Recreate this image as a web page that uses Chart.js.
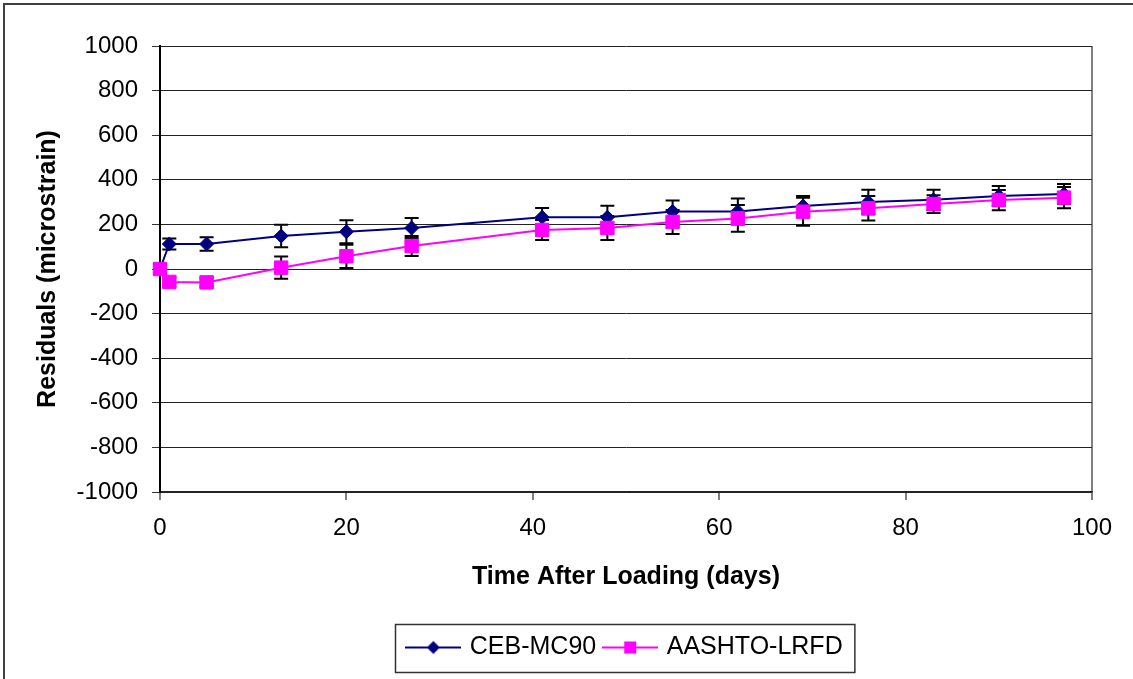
<!DOCTYPE html>
<html>
<head>
<meta charset="utf-8">
<script src="https://cdn.jsdelivr.net/npm/chart.js@4"></script>
<style>
  html, body { margin: 0; padding: 0; background: #fff; overflow: hidden; }
  #wrap { width: 1133px; height: 679px; position: relative; }
</style>
</head>
<body>
<div id="wrap"><canvas id="residualChart" width="1133" height="679"></canvas></div>
<script>
/* ---- Data ---- */
const days = [0, 1, 5, 13, 20, 27, 41, 48, 55, 62, 69, 76, 83, 90, 97];
const cebValues = [0, 112, 112, 148, 167, 184, 232, 232, 258, 258, 282, 300, 310, 327, 336];
const aashtoValues = [0, -58, -60, 6, 57, 103, 175, 184, 211, 227, 257, 272, 291, 309, 320];
const cebErrors = [20, 25, 30, 50, 52, 45, 42, 52, 49, 58, 45, 55, 45, 45, 45];
const aashtoErrors = [20, 20, 20, 50, 52, 45, 45, 54, 54, 60, 63, 55, 40, 45, 48];
const seriesNames = ['CEB-MC90', 'AASHTO-LRFD'];
const yTicks = [-1000, -800, -600, -400, -200, 0, 200, 400, 600, 800, 1000];
const xTicks = [0, 20, 40, 60, 80, 100];

const FONT = "'Liberation Sans', Arial, sans-serif";
const NAVY = '#000080';
const MAGENTA = '#FF00FF';

// legend swatch: short line with the marker in the middle
function legendSwatch(color, shape) {
    const c = document.createElement('canvas');
    c.width = 56;
    c.height = 24;
    const g = c.getContext('2d');
    g.strokeStyle = color;
    g.lineWidth = 2;
    g.beginPath();
    g.moveTo(0, 12);
    g.lineTo(56, 12);
    g.stroke();
    g.fillStyle = color;
    g.beginPath();
    if (shape === 'diamond') {
        g.moveTo(28, 5.5); g.lineTo(34.5, 12); g.lineTo(28, 18.5); g.lineTo(21.5, 12);
    } else {
        g.rect(22, 6, 12, 12);
    }
    g.closePath();
    g.fill();
    return c;
}

const errorBars = {
    id: 'errorBars',
    beforeDatasetsDraw(chart) {
        const ctx = chart.ctx;
        const xs = chart.scales.x, ys = chart.scales.y;
        ctx.save();
        ctx.strokeStyle = '#000';
        ctx.lineWidth = 2;
        chart.data.datasets.forEach(ds => {
            ds.data.forEach((p, i) => {
                const e = ds.errors[i];
                const px = xs.getPixelForValue(p.x);
                const top = ys.getPixelForValue(p.y + e);
                const bot = ys.getPixelForValue(p.y - e);
                ctx.beginPath();
                ctx.moveTo(px, top); ctx.lineTo(px, bot);
                ctx.moveTo(px - 7, top); ctx.lineTo(px + 7, top);
                ctx.moveTo(px - 7, bot); ctx.lineTo(px + 7, bot);
                ctx.stroke();
            });
        });
        ctx.restore();
    }
};

const frames = {
    id: 'frames',
    beforeDraw(chart) {
        const ctx = chart.ctx;
        ctx.save();
        ctx.fillStyle = '#fff';
        ctx.fillRect(0, 0, chart.width, chart.height);
        ctx.strokeStyle = '#404040';
        ctx.lineWidth = 2;
        ctx.strokeRect(4, 4, chart.width + 20, chart.height + 20);
        ctx.restore();
    },
    afterDraw(chart) {
        const boxes = chart.legend && chart.legend.legendHitBoxes;
        if (!boxes || !boxes.length) return;
        const left = Math.min(...boxes.map(b => b.left)) - 14;
        const right = Math.max(...boxes.map(b => b.left + b.width)) + 12;
        const top = Math.min(...boxes.map(b => b.top)) - 11;
        const bottom = Math.max(...boxes.map(b => b.top + b.height)) + 12;
        const ctx = chart.ctx;
        ctx.save();
        ctx.strokeStyle = '#333';
        ctx.lineWidth = 1.5;
        ctx.strokeRect(Math.round(left) + 0.5, Math.round(top) + 0.5, right - left, bottom - top);
        ctx.restore();
    }
};

new Chart(document.getElementById('residualChart'), {
    type: 'line',
    data: {
        datasets: [
            {
                label: seriesNames[0],
                data: days.map((d, i) => ({ x: d, y: cebValues[i] })),
                errors: cebErrors,
                borderColor: NAVY,
                backgroundColor: NAVY,
                borderWidth: 2,
                tension: 0,
                clip: false,
                pointStyle: 'rectRot',
                pointRadius: 7,
                pointBorderWidth: 1,
                pointBackgroundColor: NAVY,
                pointBorderColor: NAVY,
                order: 1,
            },
            {
                label: seriesNames[1],
                data: days.map((d, i) => ({ x: d, y: aashtoValues[i] })),
                errors: aashtoErrors,
                borderColor: MAGENTA,
                backgroundColor: MAGENTA,
                borderWidth: 2,
                tension: 0,
                clip: false,
                pointStyle: 'rect',
                pointRadius: 9.5,
                pointBorderWidth: 1,
                pointBackgroundColor: MAGENTA,
                pointBorderColor: MAGENTA,
                order: 0,
            },
        ]
    },
    options: {
        responsive: false,
        animation: false,
        events: [],
        layout: { padding: { left: 4, right: 41, top: 46, bottom: 9 } },
        plugins: {
            tooltip: { enabled: false },
            legend: {
                position: 'bottom',
                fullSize: false,
                labels: {
                    usePointStyle: true,
                    pointStyleWidth: 48,
                    padding: 10,
                    color: '#000',
                    font: { family: FONT, size: 25 },
                    sort: (a, b) => a.datasetIndex - b.datasetIndex,
                    generateLabels(chart) {
                        return chart.data.datasets.map((ds, i) => ({
                            text: ds.label,
                            datasetIndex: i,
                            fontColor: '#000',
                            pointStyle: legendSwatch(ds.borderColor, i === 0 ? 'diamond' : 'square'),
                            lineWidth: 0,
                            hidden: false,
                        }));
                    }
                }
            }
        },
        scales: {
            x: {
                type: 'linear',
                min: 0,
                max: 100,
                afterBuildTicks: s => { s.ticks = xTicks.map(v => ({ value: v })); },
                afterFit: s => { s.height = 133; },
                ticks: {
                    color: '#000',
                    padding: 14,
                    maxRotation: 0,
                    font: { family: FONT, size: 24 },
                    callback: v => String(v),
                },
                grid: {
                    drawOnChartArea: true,
                    color: c => (c.tick && c.tick.value === 100 ? '#808080' : 'rgba(0,0,0,0)'),
                    lineWidth: 2,
                    tickColor: '#808080',
                    tickLength: 8,
                },
                border: { display: true, color: '#222', width: 1.5 },
                title: {
                    display: true,
                    text: 'Time After Loading (days)',
                    color: '#000',
                    font: { family: FONT, size: 25, weight: 'bold' },
                    padding: { top: 0, bottom: 33 },
                },
            },
            y: {
                min: -1000,
                max: 1000,
                afterBuildTicks: s => { s.ticks = yTicks.map(v => ({ value: v })); },
                afterFit: s => { s.width = 156; },
                ticks: {
                    color: '#000',
                    padding: 14,
                    font: { family: FONT, size: 24 },
                    callback: v => String(v),
                },
                grid: {
                    color: '#222',
                    lineWidth: 1,
                    tickColor: '#333',
                    tickLength: 8,
                },
                border: { display: true, color: '#000', width: 2 },
                title: {
                    display: true,
                    text: 'Residuals (microstrain)',
                    color: '#000',
                    font: { family: FONT, size: 25, weight: 'bold' },
                    padding: { top: 29, bottom: 0 },
                },
            }
        }
    },
    plugins: [frames, errorBars]
});
</script>
</body>
</html>
